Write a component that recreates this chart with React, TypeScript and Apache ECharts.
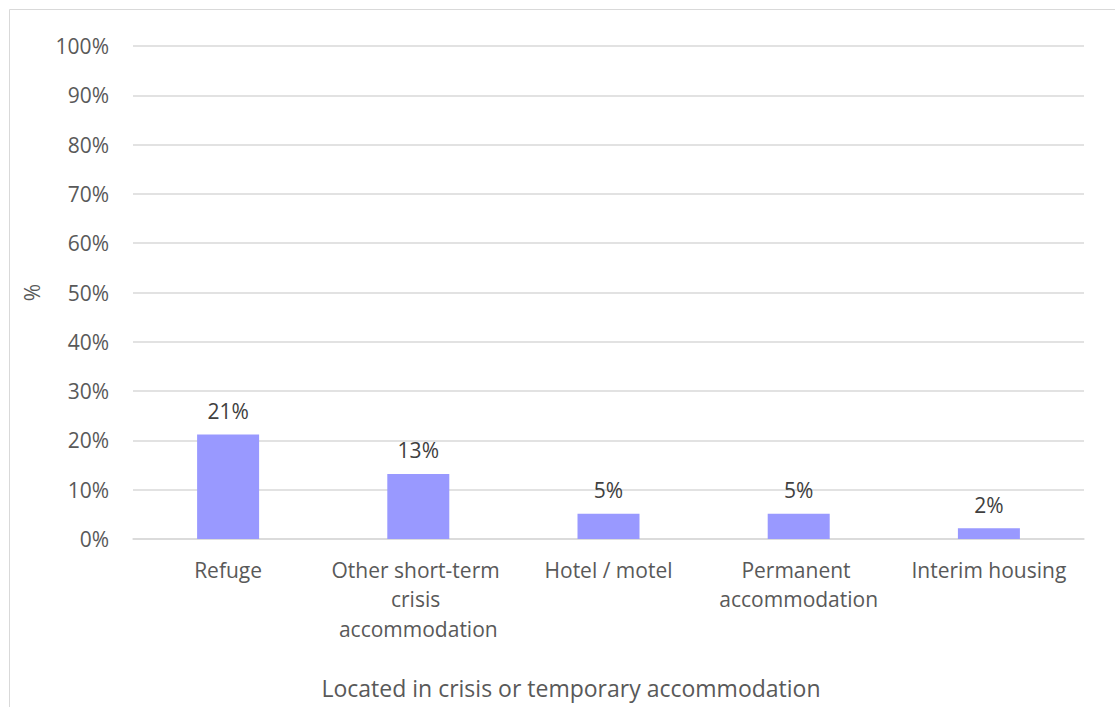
import React, { useEffect, useRef } from "react";
import * as echarts from "echarts";

const categories = [
  "Refuge",
  "Other short-term crisis accommodation",
  "Hotel / motel",
  "Permanent accommodation",
  "Interim housing",
];
const values = [21.2, 13.2, 5.1, 5.1, 2.2];
const yTicks = [0, 10, 20, 30, 40, 50, 60, 70, 80, 90, 100];
const xTitle = "Located in crisis or temporary accommodation";
const yTitle = "%";

const FONT = "'Open Sans', 'Noto Sans', sans-serif";

export default function App() {
  const ref = useRef<HTMLDivElement>(null);
  useEffect(() => {
    document.body.style.margin = "0";
    if (!ref.current) return;
    const chart = echarts.init(ref.current, null, { renderer: "svg" });
    chart.setOption({
      animation: false,
      backgroundColor: "#ffffff",
      textStyle: { fontFamily: FONT },
      grid: { left: 133, right: 31, top: 46, bottom: 168, containLabel: false },
      graphic: [
        {
          type: "rect",
          shape: { x: 9.5, y: 9.5, width: 1300, height: 900 },
          style: { fill: "none", stroke: "#d9d9d9", lineWidth: 1 },
          silent: true,
          z: -10,
        },
        {
          type: "text",
          x: 571,
          y: 688,
          style: {
            text: xTitle,
            fontFamily: FONT,
            fontSize: 23,
            fill: "#595959",
            textAlign: "center",
            textVerticalAlign: "middle",
          },
        },
      ],
      xAxis: {
        type: "category",
        data: categories,
        axisLine: { show: true, lineStyle: { color: "#d9d9d9", width: 1.5 } },
        axisTick: { show: false },
        axisLabel: {
          color: "#595959",
          fontFamily: FONT,
          fontSize: 21,
          lineHeight: 29.5,
          margin: 16,
          interval: 0,
          width: 185,
          overflow: "break",
        },
      },
      yAxis: {
        type: "value",
        min: yTicks[0],
        max: yTicks[yTicks.length - 1],
        interval: 10,
        name: yTitle,
        nameLocation: "middle",
        nameGap: 91,
        nameRotate: 90,
        nameTextStyle: { color: "#595959", fontFamily: FONT, fontSize: 21 },
        axisLine: { show: false },
        axisTick: { show: false },
        axisLabel: {
          color: "#595959",
          fontFamily: FONT,
          fontSize: 21,
          margin: 24,
          formatter: (v: number) => v + "%",
        },
        splitLine: { lineStyle: { color: "#d9d9d9", width: 1.5 } },
      },
      series: [
        {
          type: "bar",
          data: values,
          barWidth: 62,
          itemStyle: { color: "#9999ff" },
          label: {
            show: true,
            position: "top",
            distance: 13,
            color: "#404040",
            fontFamily: FONT,
            fontSize: 21,
            formatter: (p: any) => Math.round(p.value) + "%",
          },
        },
      ],
    });
    return () => chart.dispose();
  }, []);
  return <div ref={ref} style={{ width: 1115, height: 707 }} />;
}
